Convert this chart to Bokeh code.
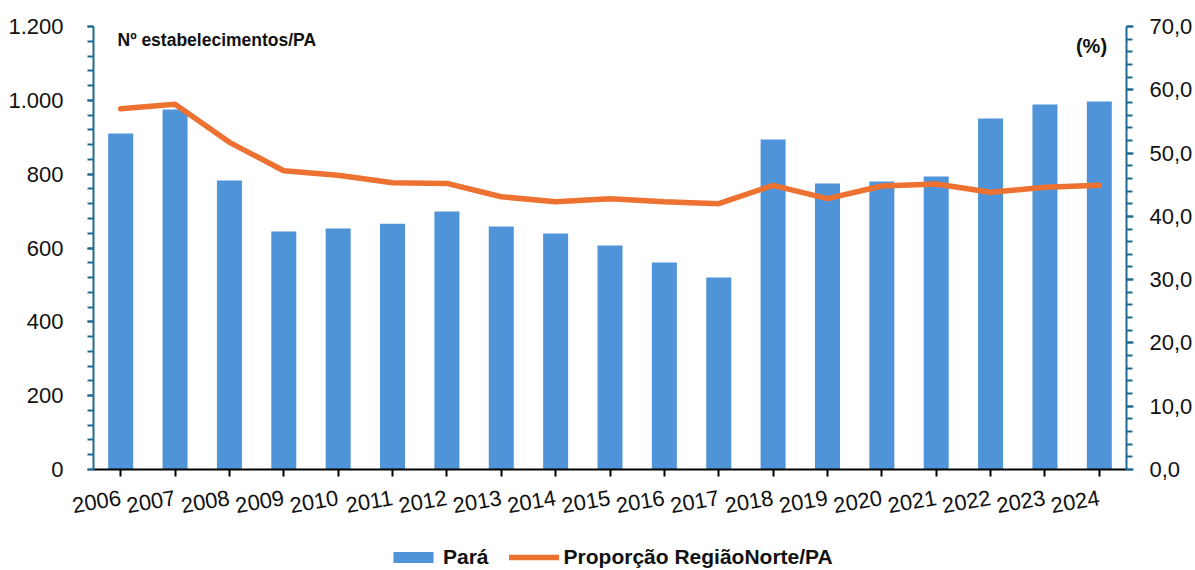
from bokeh.plotting import figure
from bokeh.layouts import column
from bokeh.models import (Range1d, FactorRange, LinearAxis, FixedTicker, Label,
                          Legend, LegendItem)
from bokeh.embed import file_html
from bokeh.resources import INLINE

# ---- data ----
years = ["2006", "2007", "2008", "2009", "2010", "2011", "2012", "2013", "2014",
         "2015", "2016", "2017", "2018", "2019", "2020", "2021", "2022", "2023", "2024"]
para = [910, 975, 783, 645, 653, 666, 699, 658, 639,
        607, 561, 520, 894, 775, 780, 794, 951, 989, 997]
proporcao = [57.0, 57.7, 51.7, 47.2, 46.5, 45.3, 45.2, 43.1, 42.3,
             42.8, 42.3, 42.0, 44.9, 42.8, 44.8, 45.1, 43.8, 44.6, 44.9]

left_ticks = [0, 200, 400, 600, 800, 1000, 1200]
left_labels = ["0", "200", "400", "600", "800", "1.000", "1.200"]
right_ticks = [0, 10, 20, 30, 40, 50, 60, 70]
right_labels = ["0,0", "10,0", "20,0", "30,0", "40,0", "50,0", "60,0", "70,0"]
series_names = ["Pará", "Proporção RegiãoNorte/PA"]

BAR = "#4F94D8"
LINE = "#ED7231"
AX = "#1F6A92"
FONT = "Liberation Sans"

p = figure(frame_width=1033, frame_height=443, output_backend="svg", toolbar_location=None,
           x_range=FactorRange(*years, range_padding=0), y_range=Range1d(0, 1200),
           min_border_left=93, min_border_right=69, min_border_top=26, min_border_bottom=64)
p.extra_y_ranges = {"pct": Range1d(0, 70)}
p.outline_line_color = None
p.xgrid.visible = False
p.ygrid.visible = False
p.background_fill_color = "white"
p.border_fill_color = "white"

p.vbar(x=years, top=para, width=0.46, fill_color=BAR, line_color=None)
p.line(x=years, y=proporcao, y_range_name="pct", line_width=5.5, line_color=LINE,
       line_cap="round", line_join="round")

# left axis
ya = p.yaxis[0]
ya.ticker = FixedTicker(ticks=left_ticks, minor_ticks=list(range(0, 1201, 40)))
ya.major_label_overrides = {float(t): l for t, l in zip(left_ticks, left_labels)}
ya.axis_line_color = AX
ya.axis_line_width = 2
ya.major_tick_line_color = AX
ya.major_tick_line_width = 2
ya.minor_tick_line_color = AX
ya.minor_tick_line_width = 2
ya.major_tick_in = 0
ya.major_tick_out = 6
ya.minor_tick_in = 0
ya.minor_tick_out = 6
ya.major_label_standoff = 24
ya.major_label_text_font = FONT
ya.major_label_text_font_size = "22px"
ya.major_label_text_color = "#111111"

# right axis
ra = LinearAxis(y_range_name="pct",
                ticker=FixedTicker(ticks=right_ticks, minor_ticks=list(range(0, 71, 2))))
ra.major_label_overrides = {float(t): l for t, l in zip(right_ticks, right_labels)}
ra.axis_line_color = AX
ra.axis_line_width = 2
ra.major_tick_line_color = AX
ra.major_tick_line_width = 2
ra.minor_tick_line_color = AX
ra.minor_tick_line_width = 2
ra.major_tick_in = 0
ra.major_tick_out = 7
ra.minor_tick_in = 0
ra.minor_tick_out = 6
ra.major_label_standoff = 16
ra.major_label_text_font = FONT
ra.major_label_text_font_size = "22px"
ra.major_label_text_color = "#111111"
p.add_layout(ra, "right")

# x axis
xa = p.xaxis[0]
xa.axis_line_color = "black"
xa.axis_line_width = 2
xa.major_tick_line_color = "black"
xa.major_tick_line_width = 2
xa.major_tick_in = 0
xa.major_tick_out = 7
xa.minor_tick_line_color = None
xa.major_label_orientation = 0.17
xa.major_label_standoff = 21
xa.major_label_text_font = FONT
xa.major_label_text_font_size = "22px"
xa.major_label_text_color = "#111111"

# annotations
p.add_layout(Label(x=24, y=430, x_units="screen", y_units="screen",
                   text="Nº estabelecimentos/PA", text_font=FONT, text_font_size="17.5px",
                   text_font_style="bold", text_align="left", text_baseline="middle",
                   text_color="#111111"))
p.add_layout(Label(x=998, y=424, x_units="screen", y_units="screen",
                   text="(%)", text_font=FONT, text_font_size="20px",
                   text_font_style="bold", text_align="center", text_baseline="middle",
                   text_color="#111111"))

# legend strip: a second figure below the chart; the same series are drawn there
# but fall outside its y range, so only the legend shows
lf = figure(width=1195, height=570 - 533, output_backend="svg", toolbar_location=None,
            x_range=FactorRange(*years, range_padding=0), y_range=Range1d(1300, 1400),
            x_axis_location=None, y_axis_location=None,
            min_border_left=0, min_border_right=0, min_border_top=0, min_border_bottom=0)
lf.outline_line_color = None
lf.xgrid.visible = False
lf.ygrid.visible = False
lb = lf.vbar(x=years, top=para, width=0.46, fill_color=BAR, line_color=None)
ll = lf.line(x=years, y=proporcao, line_width=5.5, line_color=LINE, line_cap="round")

legend = Legend(items=[LegendItem(label=series_names[0], renderers=[lb]),
                       LegendItem(label=series_names[1], renderers=[ll])],
                orientation="horizontal", location=(295, 1),
                background_fill_alpha=0, border_line_alpha=0, padding=0, margin=0,
                spacing=20, label_standoff=5, glyph_width=50, glyph_height=14,
                label_text_font=FONT, label_text_font_size="21px",
                label_text_font_style="bold", label_text_color="#111111")
lf.add_layout(legend, "center")

layout = column(p, lf, spacing=0)
open("out.html", "w").write(file_html(layout, INLINE))
